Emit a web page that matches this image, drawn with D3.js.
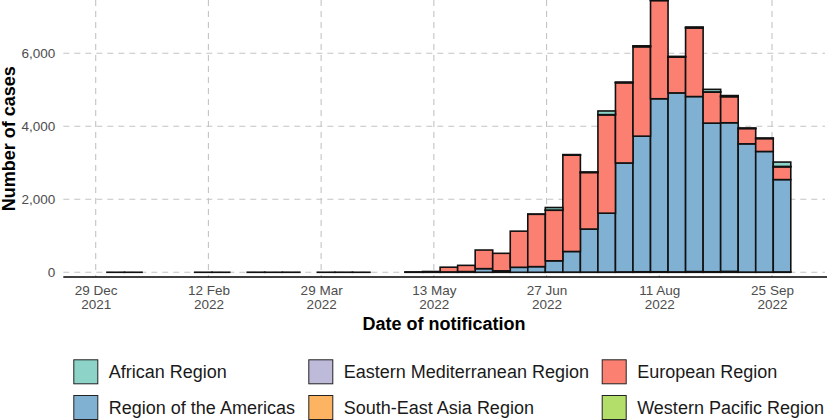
<!DOCTYPE html>
<html>
<head>
<meta charset="utf-8">
<script src="https://cdn.jsdelivr.net/npm/d3@7"></script>
<style>
  html, body { margin: 0; padding: 0; background: #fff; }
  svg { display: block; font-family: "Liberation Sans", Arial, Helvetica, sans-serif; }
</style>
</head>
<body>
<svg id="chart" width="827" height="420"></svg>
<script>
// ---------- DATA ----------
const regions = ["African Region", "Eastern Mediterranean Region", "European Region",
                 "Region of the Americas", "South-East Asia Region", "Western Pacific Region"];
const regionColors = ["#8DD3C7", "#BEBADA", "#FB8072", "#80B1D3", "#FDB462", "#B3DE69"];

// Week start (Sunday) of notification
const weeks = ["2022-01-02","2022-01-09","2022-02-06","2022-02-13","2022-02-27","2022-03-06",
  "2022-03-13","2022-03-27","2022-04-03","2022-04-10","2022-05-01","2022-05-08",
  "2022-05-15","2022-05-22","2022-05-29","2022-06-05","2022-06-12","2022-06-19",
  "2022-06-26","2022-07-03","2022-07-10","2022-07-17","2022-07-24","2022-07-31",
  "2022-08-07","2022-08-14","2022-08-21","2022-08-28","2022-09-04","2022-09-11",
  "2022-09-18","2022-09-25"];

const african      = [0,0,0,0,0,0,0,0,0,0,2,0,   0,0,0,0,0,5,  70,10,5,100,10,15,  10,10,15,70,20,5,5,120];
const easternMed   = [0,0,0,0,0,0,0,0,0,0,0,0,   0,0,0,0,0,0,  5,5,5,5,5,10,       10,5,10,5,10,5,5,10];
const european     = [1,1,1,1,2,1,2,1,2,1,5,20,  130,170,510,480,990,1435, 1385,2640,1550,2695,2200,2450, 2690,985,1880,850,715,420,355,350];
const americas     = [0,0,0,0,0,0,0,0,0,0,0,2,   10,20,100,40,137,155, 310,565,1180,1615,2985,3715, 4740,4905,4795,4072,4072,3515,3305,2530];
const southEastAsia= [0,0,0,0,0,0,0,0,0,0,0,0,   0,0,0,0,0,0,  0,0,0,0,5,5,        5,5,5,5,5,0,0,0];
const westernPac   = [0,0,0,0,0,0,0,0,0,0,0,0,   0,0,0,0,0,0,  5,5,5,5,5,10,       10,5,15,10,20,5,5,10];

const xTickDates = ["2021-12-29","2022-02-12","2022-03-29","2022-05-13","2022-06-27","2022-08-11","2022-09-25"];
const yTicks = [0, 2000, 4000, 6000];

// ---------- SETUP ----------
const svg = d3.select("#chart");
const parse = d3.utcParse("%Y-%m-%d");
const fmtDay = d3.utcFormat("%-d %b");
const fmtYear = d3.utcFormat("%Y");

const panel = {left: 63.3, right: 825, top: 0, bottom: 277};

const x = d3.scaleUtc()
  .domain([parse("2021-12-29"), parse("2022-09-25")])
  .range([95.7, 772]);
const y = d3.scaleLinear().domain([0, 6000]).range([272.3, 53.3]);

const seriesArrays = [african, easternMed, european, americas, southEastAsia, westernPac];
const table = weeks.map((w, i) => {
  const row = {week: parse(w)};
  regions.forEach((r, k) => row[r] = seriesArrays[k][i]);
  return row;
});
const color = d3.scaleOrdinal().domain(regions).range(regionColors);

// ggplot stacks first factor level on top
const stackKeys = regions.slice().reverse();
const stacked = d3.stack().keys(stackKeys)(table);

// ---------- GRID ----------
const grid = svg.append("g");
grid.selectAll("line.h").data(yTicks).join("line")
  .attr("x1", panel.left).attr("x2", panel.right)
  .attr("y1", d => y(d)).attr("y2", d => y(d))
  .attr("stroke", "#c4c4c4").attr("stroke-width", 1.1).attr("stroke-dasharray", "6,5");
grid.selectAll("line.v").data(xTickDates.map(parse)).join("line")
  .attr("x1", d => x(d)).attr("x2", d => x(d))
  .attr("y1", panel.top).attr("y2", panel.bottom)
  .attr("stroke", "#c4c4c4").attr("stroke-width", 1.1).attr("stroke-dasharray", "6,5");

// ---------- BARS ----------
const barStart = d => d3.utcHour.offset(d, 12);
const barEnd = d => d3.utcHour.offset(d, 7 * 24 + 12);

svg.append("g").selectAll("g").data(stacked).join("g")
  .attr("fill", s => color(s.key))
  .selectAll("rect").data(s => s.filter(d => d[1] - d[0] > 0)).join("rect")
  .attr("x", d => x(barStart(d.data.week)))
  .attr("width", d => x(barEnd(d.data.week)) - x(barStart(d.data.week)))
  .attr("y", d => y(d[1]))
  .attr("height", d => Math.max(0, y(d[0]) - y(d[1])))
  .attr("stroke", "#111").attr("stroke-width", 1.6);

// ---------- AXES ----------
svg.append("line")
  .attr("x1", panel.left).attr("x2", 827)
  .attr("y1", panel.bottom).attr("y2", panel.bottom)
  .attr("stroke", "#000").attr("stroke-width", 1.6);

const xAxis = svg.append("g").attr("transform", `translate(0,${panel.bottom})`)
  .call(d3.axisBottom(x).tickValues(xTickDates.map(parse)).tickSize(0).tickFormat(""));
xAxis.select(".domain").remove();
xAxis.selectAll(".tick").each(function(d) {
  const t = d3.select(this).append("text")
    .attr("fill", "#4d4d4d").attr("font-size", "13.5px").attr("text-anchor", "middle");
  t.append("tspan").attr("x", 0).attr("y", 18).text(fmtDay(d));
  t.append("tspan").attr("x", 0).attr("y", 32.3).text(fmtYear(d));
});

const yAxis = svg.append("g").attr("transform", `translate(${panel.left},0)`)
  .call(d3.axisLeft(y).tickValues(yTicks).tickSize(0).tickPadding(8).tickFormat(d3.format(",")));
yAxis.select(".domain").remove();
yAxis.selectAll("text").attr("fill", "#4d4d4d").attr("font-size", "13.5px")
  .attr("font-family", "Liberation Sans, Arial, sans-serif");

// Titles
svg.append("text")
  .attr("transform", `translate(15,138.7) rotate(-90)`)
  .attr("text-anchor", "middle").attr("font-weight", "bold").attr("font-size", "18px")
  .attr("fill", "#000").text("Number of cases");
svg.append("text")
  .attr("x", 444).attr("y", 330)
  .attr("text-anchor", "middle").attr("font-weight", "bold").attr("font-size", "18px")
  .attr("fill", "#000").text("Date of notification");

// ---------- LEGEND ----------
const legend = svg.append("g");
const keySize = 24, keyGap = 10;
const rowY = [359.3, 395];
const colX = [73.3, 308.3, 601.7];
const nCols = 3;

regions.forEach((r, i) => {
  const c = i % nCols, rr = Math.floor(i / nCols);
  const g = legend.append("g").attr("transform", `translate(${colX[c]},${rowY[rr]})`);
  g.append("rect").attr("x", 0.5).attr("y", 0.5).attr("width", keySize).attr("height", keySize)
    .attr("fill", color(r)).attr("stroke", "#222").attr("stroke-width", 1);
  g.append("text").attr("x", keySize + keyGap + 1.5).attr("y", keySize / 2 + 0.5).attr("dy", "0.35em")
    .attr("font-size", "18px").attr("fill", "#1a1a1a").text(r);
});
</script>
</body>
</html>
